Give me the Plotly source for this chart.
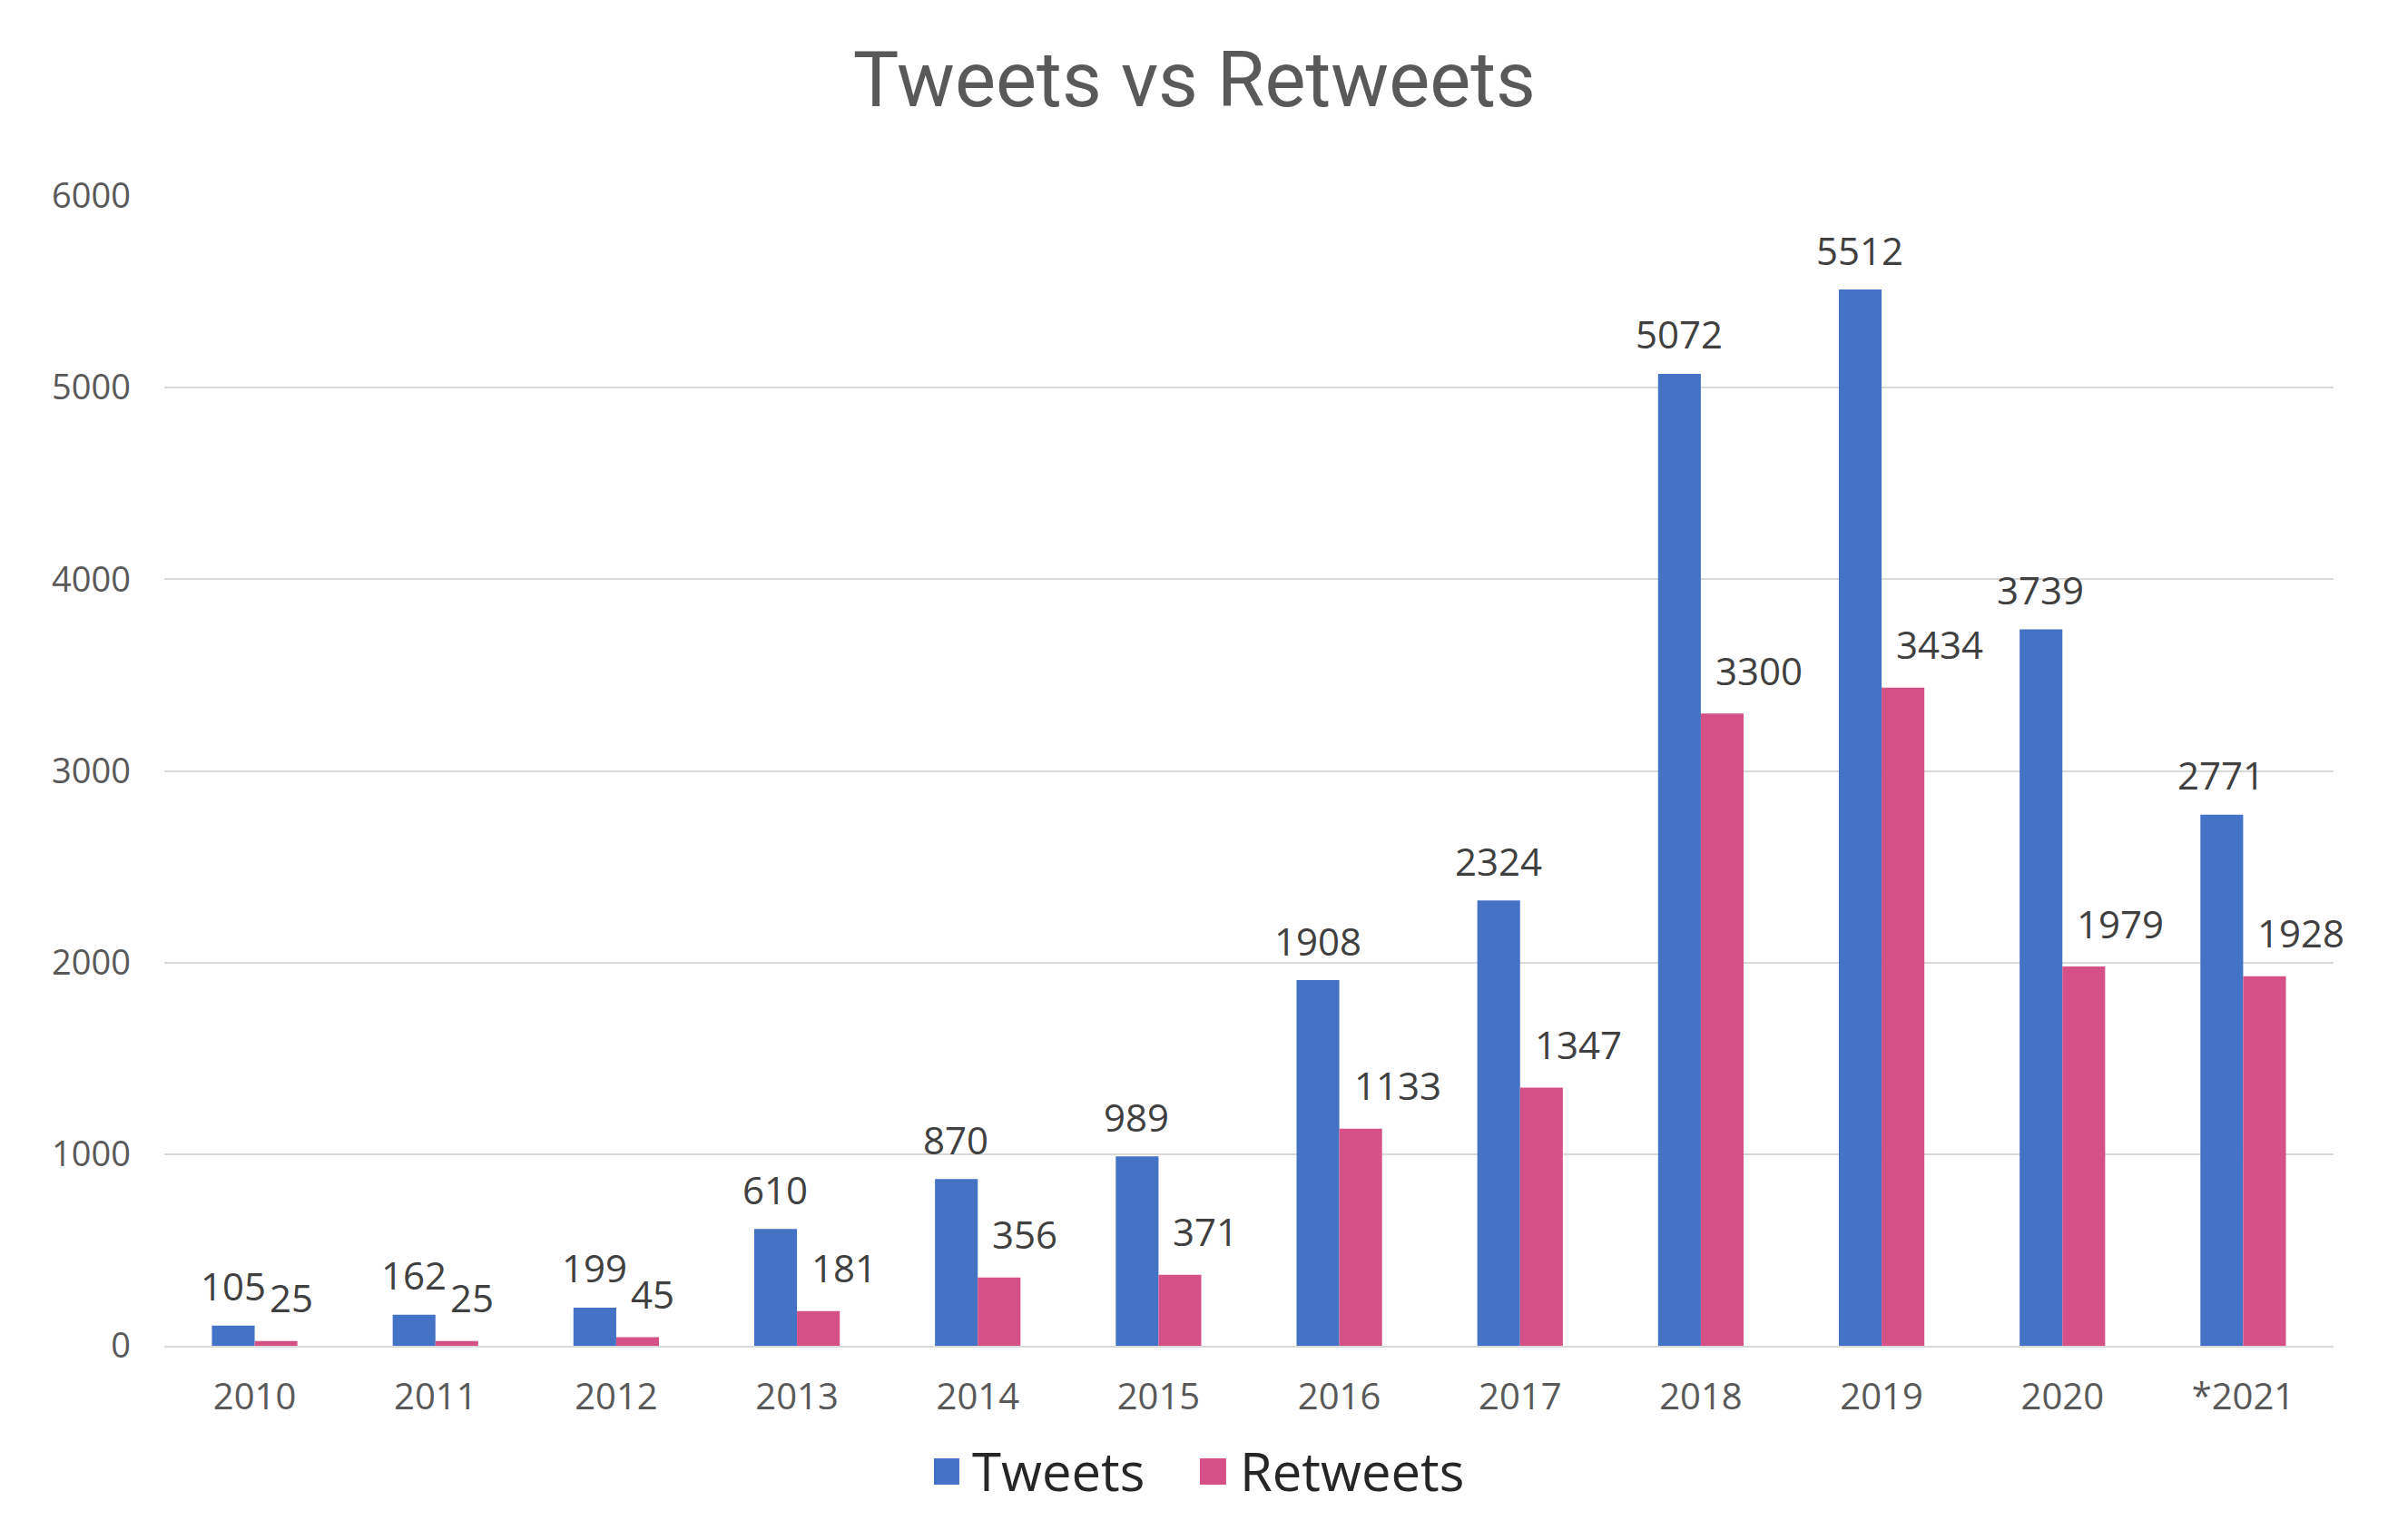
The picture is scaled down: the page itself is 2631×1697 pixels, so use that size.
import plotly.graph_objects as go

years = ['2010', '2011', '2012', '2013', '2014', '2015',
         '2016', '2017', '2018', '2019', '2020', '*2021']
tweets = [105, 162, 199, 610, 870, 989, 1908, 2324, 5072, 5512, 3739, 2771]
retweets = [25, 25, 45, 181, 356, 371, 1133, 1347, 3300, 3434, 1979, 1928]

blue = '#4472C4'
pink = '#D55087'
label_font = dict(family='Open Sans, sans-serif', size=42, color='#404040')

fig = go.Figure()
fig.add_trace(go.Bar(name='Tweets', x=years, y=tweets, marker_color=blue,
                     marker_line_width=0, showlegend=False))
fig.add_trace(go.Bar(name='Retweets', x=years, y=retweets, marker_color=pink,
                     marker_line_width=0, showlegend=False))

# data labels: tweets centred over their bar, retweets nudged right as in the original
# (category index used for x, since '2010' etc. would be read as an index otherwise)
for i, (t, r) in enumerate(zip(tweets, retweets)):
    fig.add_annotation(x=i, y=t, text=str(t), showarrow=False, font=label_font,
                       xanchor='center', yanchor='middle', xshift=-24, yshift=44)
    fig.add_annotation(x=i, y=r, text=str(r), showarrow=False, font=label_font,
                       xanchor='left', yanchor='middle', xshift=14, yshift=48)

# legend drawn by hand so the swatches can be as large as in the original
legend_font = dict(family='Open Sans, sans-serif', size=58, color='#262626')
for name, colour, x0, x1, xt in [('Tweets', blue, 0.3548, 0.3665, 0.3716),
                                 ('Retweets', pink, 0.4774, 0.4895, 0.4950)]:
    fig.add_shape(type='rect', xref='paper', yref='paper', x0=x0, x1=x1,
                  y0=-0.1208, y1=-0.0979, fillcolor=colour, line_width=0)
    fig.add_annotation(xref='paper', yref='paper', x=xt, y=-0.1089, text=name,
                       showarrow=False, xanchor='left', yanchor='middle', font=legend_font)

fig.update_layout(
    width=2631, height=1697, autosize=False,
    paper_bgcolor='white', plot_bgcolor='white',
    barmode='group', bargap=0.527, bargroupgap=0,
    margin=dict(l=173, r=68, t=208, b=222, autoexpand=False),
    title=dict(text='Tweets vs Retweets', x=0.4971, xref='container', xanchor='center',
               y=1 - 79 / 1697, yref='container', yanchor='middle',
               font=dict(family='Roboto, sans-serif', size=85, color='#595959')),
    font=dict(family='Open Sans, sans-serif', color='#595959'),
    showlegend=False,
)
fig.update_xaxes(type='category', range=[-0.5, len(years) - 0.5], showgrid=False,
                 showline=True, linecolor='#d9d9d9', linewidth=2, tickangle=0,
                 automargin=False, tickfont=dict(size=40, color='#595959'), ticks='',
                 ticklabelstandoff=20)
fig.update_yaxes(range=[0, 6000], dtick=1000, showgrid=True, gridcolor='#d9d9d9',
                 gridwidth=2, zeroline=False, showline=False, ticks='', automargin=False,
                 tickfont=dict(size=38, color='#595959'), ticklabelstandoff=36)

fig.write_html('out.html')
